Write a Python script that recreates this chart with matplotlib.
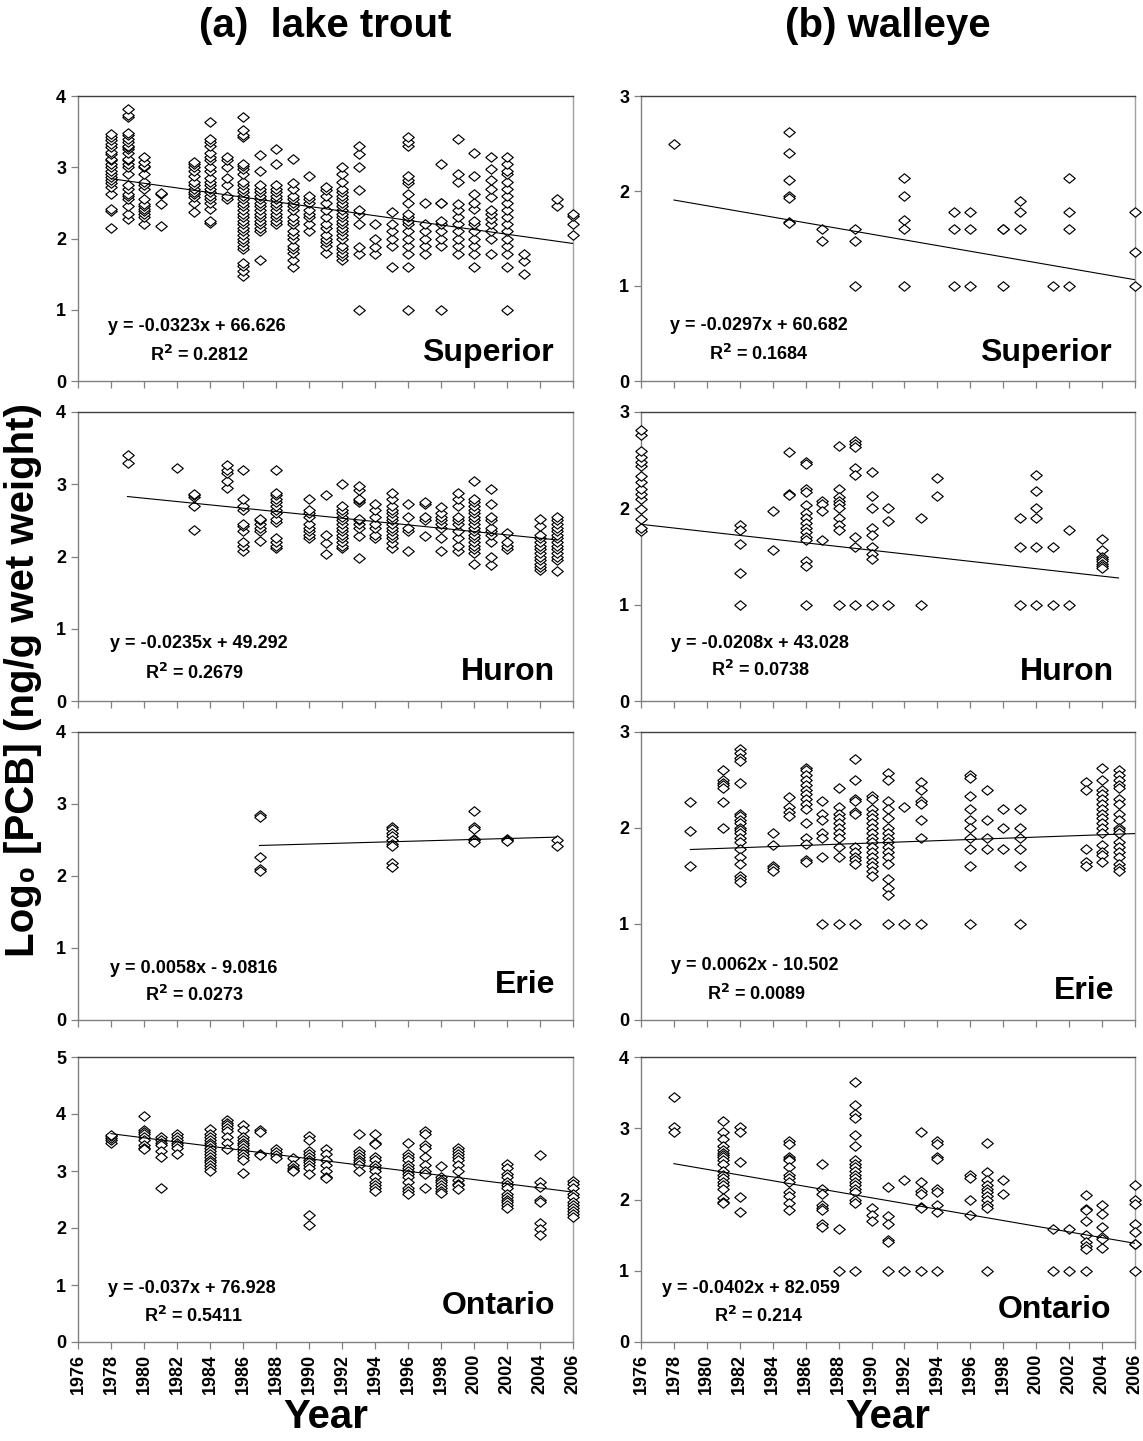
import matplotlib
matplotlib.use("Agg")
import matplotlib.pyplot as plt
import numpy as np

plt.rcParams['font.family'] = ['Liberation Sans', 'DejaVu Sans']
plt.rcParams['font.weight'] = 'bold'
plt.rcParams['mathtext.default'] = 'bf'

# ---------------- DATA ----------------
# (a) lake trout, Superior
trout_sup_years = [1978, 1979, 1980, 1981, 1983, 1984, 1985, 1986, 1987, 1988, 1989, 1990, 1991, 1992,
                   1993, 1994, 1995, 1996, 1997, 1998, 1999, 2000, 2001, 2002, 2003, 2005, 2006]
trout_sup_vals = [
    [2.15, 2.38, 2.42, 2.63, 2.72, 2.78, 2.82, 2.86, 2.9, 2.95, 3.0, 3.05, 3.1, 3.12, 3.18, 3.22, 3.28, 3.32, 3.38, 3.42, 3.46],
    [2.27, 2.35, 2.45, 2.55, 2.6, 2.63, 2.7, 2.75, 2.9, 3.0, 3.05, 3.1, 3.12, 3.2, 3.25, 3.28, 3.3, 3.35, 3.4, 3.45, 3.48, 3.7, 3.73, 3.82],
    [2.2, 2.3, 2.35, 2.38, 2.42, 2.45, 2.48, 2.55, 2.7, 2.75, 2.8, 2.9, 3.0, 3.02, 3.08, 3.15],
    [2.18, 2.48, 2.62, 2.64],
    [2.37, 2.5, 2.58, 2.62, 2.65, 2.7, 2.75, 2.8, 2.88, 2.95, 3.0, 3.05, 3.08],
    [2.22, 2.25, 2.42, 2.5, 2.55, 2.6, 2.65, 2.7, 2.75, 2.8, 2.85, 2.95, 3.0, 3.1, 3.15, 3.2, 3.3, 3.35, 3.4, 3.63],
    [2.55, 2.6, 2.75, 2.85, 3.0, 3.1, 3.15],
    [1.47, 1.55, 1.62, 1.65, 1.85, 1.9, 1.95, 2.0, 2.05, 2.1, 2.15, 2.2, 2.25, 2.3, 2.35, 2.4, 2.45, 2.5, 2.55, 2.6, 2.65, 2.7, 2.75, 2.8, 2.9, 2.98, 3.02, 3.05, 3.42, 3.45, 3.52, 3.7],
    [1.7, 2.1, 2.15, 2.2, 2.25, 2.3, 2.35, 2.4, 2.45, 2.5, 2.55, 2.6, 2.65, 2.7, 2.75, 2.95, 3.17],
    [2.2, 2.25, 2.3, 2.35, 2.4, 2.45, 2.5, 2.55, 2.6, 2.65, 2.7, 2.75, 3.05, 3.25],
    [1.6, 1.7, 1.8, 1.85, 1.9, 2.0, 2.05, 2.1, 2.2, 2.25, 2.3, 2.4, 2.45, 2.5, 2.55, 2.6, 2.7, 2.78, 3.12],
    [2.1, 2.2, 2.3, 2.35, 2.4, 2.5, 2.55, 2.6, 2.88],
    [1.8, 1.9, 1.95, 2.0, 2.05, 2.15, 2.2, 2.3, 2.4, 2.5, 2.6, 2.68, 2.72],
    [1.7, 1.75, 1.8, 1.85, 1.9, 2.0, 2.05, 2.1, 2.15, 2.2, 2.25, 2.3, 2.35, 2.4, 2.45, 2.5, 2.55, 2.6, 2.65, 2.7, 2.8, 2.9, 3.0],
    [1.0, 1.78, 1.88, 2.2, 2.35, 2.4, 2.68, 3.0, 3.18, 3.3],
    [1.78, 1.88, 2.0, 2.2],
    [1.6, 1.9, 2.0, 2.1, 2.2, 2.37],
    [1.0, 1.6, 1.78, 1.9, 2.0, 2.1, 2.2, 2.25, 2.3, 2.35, 2.5, 2.62, 2.78, 2.82, 2.88, 3.3, 3.35, 3.42],
    [1.78, 1.9, 2.0, 2.1, 2.2, 2.5],
    [1.0, 1.9, 2.0, 2.1, 2.2, 2.25, 2.5, 2.5, 3.05],
    [1.78, 1.9, 2.0, 2.1, 2.2, 2.3, 2.4, 2.48, 2.8, 2.9, 3.4],
    [1.6, 1.78, 1.9, 2.0, 2.1, 2.2, 2.25, 2.42, 2.5, 2.62, 2.88, 3.2],
    [1.78, 2.0, 2.1, 2.2, 2.28, 2.35, 2.4, 2.58, 2.7, 2.82, 2.98, 3.15],
    [1.0, 1.6, 1.78, 1.9, 2.0, 2.1, 2.2, 2.3, 2.4, 2.5, 2.6, 2.7, 2.8, 2.9, 2.95, 3.05, 3.15],
    [1.5, 1.68, 1.78],
    [2.45, 2.55],
    [2.05, 2.2, 2.32, 2.35],
]

# (b) walleye, Superior
walleye_sup_years = [1978, 1985, 1987, 1989, 1992, 1995, 1996, 1998, 1999, 2001, 2002, 2006]
walleye_sup_vals = [
    [2.5],
    [2.62, 2.4, 2.12, 1.95, 1.93, 1.67, 1.66],
    [1.6, 1.47],
    [1.6, 1.47, 1.0],
    [2.14, 1.95, 1.7, 1.6, 1.0],
    [1.78, 1.6, 1.0],
    [1.78, 1.6, 1.0],
    [1.6, 1.6, 1.0],
    [1.9, 1.78, 1.6],
    [1.0],
    [2.14, 1.78, 1.6, 1.0],
    [1.78, 1.36, 1.0],
]

# (a) lake trout, Huron
trout_hur_years = [1979, 1982, 1983, 1985, 1986, 1987, 1988, 1990, 1991, 1992, 1993, 1994, 1995, 1996,
                   1997, 1998, 1999, 2000, 2001, 2002, 2004, 2005]
trout_hur_vals = [
    [3.3, 3.4],
    [3.23],
    [2.37, 2.7, 2.82, 2.85, 2.87],
    [2.95, 3.05, 3.15, 3.2, 3.26],
    [2.07, 2.15, 2.2, 2.35, 2.42, 2.45, 2.65, 2.7, 2.8, 3.2],
    [2.22, 2.35, 2.4, 2.45, 2.5, 2.52],
    [2.12, 2.15, 2.2, 2.25, 2.48, 2.52, 2.6, 2.65, 2.7, 2.75, 2.8, 2.85, 2.88, 3.2],
    [2.25, 2.3, 2.35, 2.4, 2.45, 2.55, 2.6, 2.65, 2.8],
    [2.03, 2.18, 2.3, 2.85],
    [2.12, 2.15, 2.2, 2.25, 2.3, 2.35, 2.4, 2.45, 2.5, 2.55, 2.6, 2.65, 2.7, 3.0],
    [1.98, 2.28, 2.4, 2.45, 2.5, 2.52, 2.75, 2.78, 2.8, 2.92, 2.98],
    [2.25, 2.3, 2.4, 2.45, 2.55, 2.65, 2.72],
    [2.12, 2.18, 2.25, 2.3, 2.35, 2.4, 2.45, 2.5, 2.55, 2.6, 2.65, 2.7, 2.8, 2.88],
    [2.07, 2.35, 2.4, 2.55, 2.72],
    [2.28, 2.5, 2.55, 2.73, 2.75],
    [2.07, 2.25, 2.4, 2.45, 2.5, 2.55, 2.6, 2.68],
    [2.08, 2.15, 2.25, 2.35, 2.45, 2.5, 2.55, 2.7, 2.8, 2.88],
    [1.9, 2.05, 2.1, 2.15, 2.2, 2.25, 2.3, 2.35, 2.4, 2.45, 2.5, 2.55, 2.6, 2.65, 2.7, 2.75, 2.8, 3.05],
    [1.88, 2.0, 2.2, 2.3, 2.35, 2.4, 2.5, 2.55, 2.72, 2.93],
    [2.1, 2.15, 2.2, 2.32],
    [1.82, 1.85, 1.9, 1.95, 2.0, 2.05, 2.1, 2.15, 2.2, 2.25, 2.3, 2.42, 2.52],
    [1.8, 1.95, 2.0, 2.05, 2.1, 2.15, 2.2, 2.25, 2.3, 2.35, 2.4, 2.45, 2.5, 2.55],
]

# (b) walleye, Huron
walleye_hur_years = [1976, 1982, 1984, 1985, 1986, 1987, 1988, 1989, 1990, 1991, 1993, 1994, 1999, 2000, 2001, 2002, 2004]
walleye_hur_vals = [
    [1.76, 1.8, 1.89, 1.99, 2.1, 2.15, 2.2, 2.27, 2.34, 2.44, 2.48, 2.53, 2.6, 2.76, 2.81],
    [1.83, 1.78, 1.63, 1.33, 1.0],
    [1.97, 1.57],
    [2.58, 2.15, 2.14],
    [2.48, 2.46, 2.2, 2.17, 2.03, 1.95, 1.9, 1.85, 1.8, 1.75, 1.7, 1.67, 1.45, 1.4, 1.0],
    [2.08, 2.05, 1.97, 1.67],
    [2.65, 2.2, 2.12, 2.08, 2.05, 2.0, 1.9, 1.83, 1.78, 1.0],
    [2.7, 2.67, 2.64, 2.42, 2.35, 1.7, 1.6, 1.0],
    [2.38, 2.13, 2.0, 1.8, 1.72, 1.6, 1.53, 1.47, 1.0],
    [2.0, 1.87, 1.0],
    [1.9, 1.0],
    [2.32, 2.13],
    [1.9, 1.6, 1.0],
    [2.35, 2.18, 2.0, 1.9, 1.6, 1.0],
    [1.6, 1.0],
    [1.77, 1.0],
    [1.68, 1.57, 1.5, 1.47, 1.45, 1.42, 1.4, 1.38],
]

# (a) lake trout, Erie
trout_erie_years = [1987, 1995, 2000, 2002, 2005]
trout_erie_vals = [
    [2.85, 2.82, 2.27, 2.1, 2.07],
    [2.68, 2.65, 2.6, 2.55, 2.5, 2.45, 2.42, 2.18, 2.12],
    [2.9, 2.68, 2.65, 2.52, 2.5, 2.47],
    [2.52, 2.5, 2.48],
    [2.5, 2.42],
]

# (b) walleye, Erie
walleye_erie_years = [1979, 1981, 1982, 1984, 1985, 1986, 1987, 1988, 1989, 1990, 1991, 1992, 1993,
                      1996, 1997, 1998, 1999, 2003, 2004, 2005]
walleye_erie_vals = [
    [2.27, 1.97, 1.6],
    [2.6, 2.5, 2.47, 2.45, 2.42, 2.27, 2.0],
    [2.82, 2.78, 2.73, 2.7, 2.47, 2.15, 2.12, 2.08, 2.05, 2.0, 1.98, 1.95, 1.9, 1.85, 1.78, 1.7, 1.62, 1.5, 1.47, 1.44],
    [1.95, 1.82, 1.6, 1.58, 1.55],
    [2.32, 2.22, 2.17, 2.12],
    [2.62, 2.6, 2.55, 2.5, 2.45, 2.4, 2.35, 2.3, 2.25, 2.2, 2.05, 1.9, 1.83, 1.67, 1.65],
    [2.28, 2.15, 2.08, 1.95, 1.9, 1.7, 1.0],
    [2.42, 2.22, 2.15, 2.1, 2.05, 2.0, 1.95, 1.9, 1.8, 1.7, 1.0],
    [2.72, 2.5, 2.3, 2.28, 2.17, 2.15, 1.8, 1.75, 1.7, 1.67, 1.63, 1.0],
    [2.33, 2.3, 2.2, 2.15, 2.1, 2.05, 2.0, 1.95, 1.9, 1.85, 1.8, 1.75, 1.7, 1.65, 1.6, 1.55, 1.5],
    [2.57, 2.5, 2.28, 2.2, 2.1, 2.0, 1.95, 1.9, 1.85, 1.8, 1.75, 1.7, 1.63, 1.47, 1.38, 1.3, 1.0],
    [2.22, 1.0],
    [2.48, 2.4, 2.28, 2.25, 2.08, 1.9, 1.0],
    [2.55, 2.52, 2.33, 2.2, 2.08, 2.0, 1.9, 1.78, 1.6, 1.0],
    [2.4, 2.08, 1.9, 1.78],
    [2.2, 2.0, 1.78],
    [2.2, 2.0, 1.9, 1.78, 1.6, 1.0],
    [2.48, 2.4, 1.78, 1.65, 1.6],
    [2.62, 2.5, 2.4, 2.35, 2.3, 2.25, 2.2, 2.15, 2.1, 2.05, 2.0, 1.95, 1.82, 1.75, 1.72, 1.65],
    [2.6, 2.55, 2.5, 2.45, 2.42, 2.3, 2.25, 2.15, 2.08, 2.0, 1.98, 1.95, 1.85, 1.8, 1.75, 1.7, 1.62, 1.58, 1.55],
]

# (a) lake trout, Ontario
trout_ont_years = [1978, 1980, 1981, 1982, 1984, 1985, 1986, 1987, 1988, 1989, 1990, 1991, 1993, 1994,
                   1996, 1997, 1998, 1999, 2002, 2004, 2006]
trout_ont_vals = [
    [3.5, 3.55, 3.58, 3.62, 3.63],
    [3.96, 3.72, 3.68, 3.65, 3.6, 3.55, 3.45, 3.4, 3.38],
    [3.6, 3.55, 3.5, 3.45, 3.35, 3.25, 2.7],
    [3.65, 3.6, 3.55, 3.5, 3.45, 3.4, 3.3],
    [3.73, 3.65, 3.6, 3.55, 3.5, 3.45, 3.4, 3.35, 3.3, 3.25, 3.2, 3.15, 3.1, 3.05, 3.0],
    [3.9, 3.85, 3.8, 3.75, 3.7, 3.6, 3.5, 3.38],
    [3.8, 3.72, 3.6, 3.55, 3.5, 3.45, 3.4, 3.35, 3.3, 3.25, 3.2, 2.97],
    [3.72, 3.68, 3.3, 3.28],
    [3.38, 3.33, 3.28, 3.22],
    [3.22, 3.1, 3.05, 3.02, 3.0],
    [3.62, 3.55, 3.35, 3.3, 3.25, 3.2, 3.15, 3.1, 3.05, 2.95, 2.22, 2.05],
    [3.38, 3.3, 3.2, 3.1, 3.0, 2.9, 2.87],
    [3.65, 3.35, 3.3, 3.25, 3.2, 3.15, 3.1, 3.0],
    [3.65, 3.5, 3.48, 3.25, 3.2, 3.1, 3.05, 3.0, 2.9, 2.8, 2.75, 2.7, 2.65],
    [3.5, 3.3, 3.25, 3.2, 3.1, 3.05, 3.0, 2.95, 2.9, 2.8, 2.7, 2.65, 2.6],
    [3.7, 3.65, 3.45, 3.4, 3.25, 3.1, 3.0, 2.95, 2.7],
    [3.08, 2.9, 2.85, 2.8, 2.75, 2.7, 2.65, 2.62],
    [3.4, 3.35, 3.3, 3.25, 3.2, 3.1, 3.0, 2.85, 2.78, 2.75, 2.68],
    [3.12, 3.05, 2.95, 2.9, 2.8, 2.75, 2.7, 2.6, 2.55, 2.5, 2.45, 2.4, 2.35],
    [3.28, 2.8, 2.72, 2.5, 2.45, 2.08, 1.98, 1.88],
    [2.82, 2.78, 2.7, 2.6, 2.55, 2.45, 2.4, 2.35, 2.3, 2.25, 2.2],
]

# (b) walleye, Ontario
walleye_ont_years = [1978, 1981, 1982, 1985, 1987, 1988, 1989, 1990, 1991, 1992, 1993, 1994, 1996,
                     1997, 1998, 2001, 2002, 2003, 2004, 2006]
walleye_ont_vals = [
    [3.44, 3.02, 2.95],
    [3.1, 2.95, 2.85, 2.75, 2.7, 2.65, 2.62, 2.6, 2.55, 2.5, 2.4, 2.35, 2.3, 2.25, 2.2, 2.15, 2.02, 1.97, 1.95],
    [3.02, 2.95, 2.52, 2.03, 1.83],
    [2.82, 2.78, 2.6, 2.57, 2.55, 2.45, 2.35, 2.3, 2.25, 2.1, 2.05, 1.95, 1.85],
    [2.5, 2.15, 2.08, 1.92, 1.88, 1.85, 1.65, 1.62],
    [1.58, 1.0],
    [3.65, 3.32, 3.2, 3.15, 2.9, 2.75, 2.55, 2.5, 2.45, 2.4, 2.35, 2.3, 2.25, 2.2, 2.15, 2.1, 2.0, 1.95, 1.0],
    [1.88, 1.78, 1.7],
    [2.17, 1.77, 1.65, 1.43, 1.4, 1.0],
    [2.28, 1.0],
    [2.95, 2.25, 2.12, 2.08, 1.9, 1.88, 1.0],
    [2.82, 2.78, 2.6, 2.57, 2.15, 2.1, 1.92, 1.82, 1.0],
    [2.35, 2.3, 2.0, 1.78],
    [2.8, 2.38, 2.28, 2.2, 2.15, 2.1, 2.05, 2.0, 1.92, 1.88, 1.0],
    [2.28, 2.08],
    [1.58, 1.0],
    [1.58, 1.0],
    [2.07, 1.87, 1.85, 1.7, 1.5, 1.4, 1.35, 1.3, 1.0],
    [1.92, 1.8, 1.62, 1.48, 1.45, 1.32],
    [2.2, 2.0, 1.93, 1.65, 1.55, 1.38, 1.37, 1.0],
]

# Trend lines (start/end year, start/end value as drawn)
trend_x0 = [1978, 1978, 1979, 1976, 1987, 1979, 1978, 1978]
trend_x1 = [2006, 2006, 2005, 2005, 2005, 2006, 2006, 2006]
trend_y0 = [2.84, 1.905, 2.83, 1.834, 2.424, 1.776, 3.655, 2.503]
trend_y1 = [1.93, 1.066, 2.23, 1.277, 2.54, 1.942, 2.63, 1.385]

equations = ["y = -0.0323x + 66.626", "y = -0.0297x + 60.682",
             "y = -0.0235x + 49.292", "y = -0.0208x + 43.028",
             "y = 0.0058x - 9.0816", "y = 0.0062x - 10.502",
             "y = -0.037x + 76.928", "y = -0.0402x + 82.059"]
r2_values = ["0.2812", "0.1684", "0.2679", "0.0738", "0.0273", "0.0089", "0.5411", "0.214"]
lake_names = ["Superior", "Superior", "Huron", "Huron", "Erie", "Erie", "Ontario", "Ontario"]
y_max = [4, 3, 4, 3, 4, 3, 5, 4]
column_titles = ["(a)  lake trout", "(b) walleye"]
x_ticks = list(range(1976, 2007, 2))

panel_years = [trout_sup_years, walleye_sup_years, trout_hur_years, walleye_hur_years,
               trout_erie_years, walleye_erie_years, trout_ont_years, walleye_ont_years]
panel_vals = [trout_sup_vals, walleye_sup_vals, trout_hur_vals, walleye_hur_vals,
              trout_erie_vals, walleye_erie_vals, trout_ont_vals, walleye_ont_vals]

# ---------------- LAYOUT ----------------
W, H = 1143, 1441
fig = plt.figure(figsize=(W / 100, H / 100), dpi=100)

col_px = [(78, 573), (641, 1135)]
row_px = [(96, 381), (412, 701), (732, 1020), (1057, 1342)]

eq_pos = [(0.24, 0.19), (0.239, 0.196), (0.245, 0.2), (0.241, 0.198),
          (0.234, 0.18), (0.231, 0.188), (0.23, 0.186), (0.223, 0.186)]
r2_pos = [(0.246, 0.09), (0.239, 0.095), (0.235, 0.097), (0.243, 0.107),
          (0.236, 0.087), (0.235, 0.09), (0.234, 0.09), (0.239, 0.09)]
name_pos = [(0.96, 0.1), (0.952, 0.1), (0.964, 0.1), (0.958, 0.1),
            (0.964, 0.12), (0.958, 0.1), (0.964, 0.125), (0.952, 0.112)]

diamond = [(-1, 0), (0, 0.82), (1, 0), (0, -0.82), (-1, 0)]

for i in range(8):
    r, c = divmod(i, 2)
    x0, x1 = col_px[c]
    y0, y1 = row_px[r]
    ax = fig.add_axes([x0 / W, 1 - y1 / H, (x1 - x0) / W, (y1 - y0) / H])

    xs, ys = [], []
    for yr, vals in zip(panel_years[i], panel_vals[i]):
        xs.extend([yr] * len(vals))
        ys.extend(vals)
    ax.plot(xs, ys, linestyle='none', marker=diamond, markersize=8.3,
            markerfacecolor='white', markeredgecolor='black', markeredgewidth=0.85,
            clip_on=False, zorder=3)
    ax.plot([trend_x0[i], trend_x1[i]], [trend_y0[i], trend_y1[i]],
            color='black', linewidth=0.8, zorder=4)

    ax.set_xlim(1976, 2006)
    ax.set_ylim(0, y_max[i])
    ax.set_xticks(x_ticks)
    ax.set_yticks(range(0, y_max[i] + 1))
    ax.tick_params(axis='both', direction='out', length=5, width=0.9, color='#808080',
                   labelsize=13)
    for lab in ax.get_yticklabels():
        lab.set_fontweight('bold')
    if r == 3:
        ax.set_xticklabels([str(t) for t in x_ticks], rotation=90, fontsize=13, fontweight='bold')
        ax.set_xlabel("Year", fontsize=29, fontweight='bold', labelpad=3)
    else:
        ax.set_xticklabels([])

    ax.spines['left'].set_color('#808080')
    ax.spines['bottom'].set_color('#808080')
    ax.spines['top'].set_color('#404040')
    ax.spines['right'].set_color('#a0a0a0')
    for s in ax.spines.values():
        s.set_linewidth(1.0)

    ax.text(eq_pos[i][0], eq_pos[i][1], equations[i], transform=ax.transAxes,
            ha='center', va='center', fontsize=13, fontweight='bold')
    ax.text(r2_pos[i][0], r2_pos[i][1], "R$^{2}$ = " + r2_values[i], transform=ax.transAxes,
            ha='center', va='center', fontsize=13, fontweight='bold')
    ax.text(name_pos[i][0], name_pos[i][1], lake_names[i], transform=ax.transAxes,
            ha='right', va='center', fontsize=23, fontweight='bold')

    if r == 0:
        ax.text(0.5, 1 + (96 - 26) / (y1 - y0), column_titles[c], transform=ax.transAxes,
                ha='center', va='center', fontsize=29, fontweight='bold')

fig.text(23 / W, 1 - 680 / H, "Log\u2080 [PCB] (ng/g wet weight)", rotation=90,
         ha='center', va='center', fontsize=29, fontweight='bold')

fig.savefig("out.png", dpi=100)
